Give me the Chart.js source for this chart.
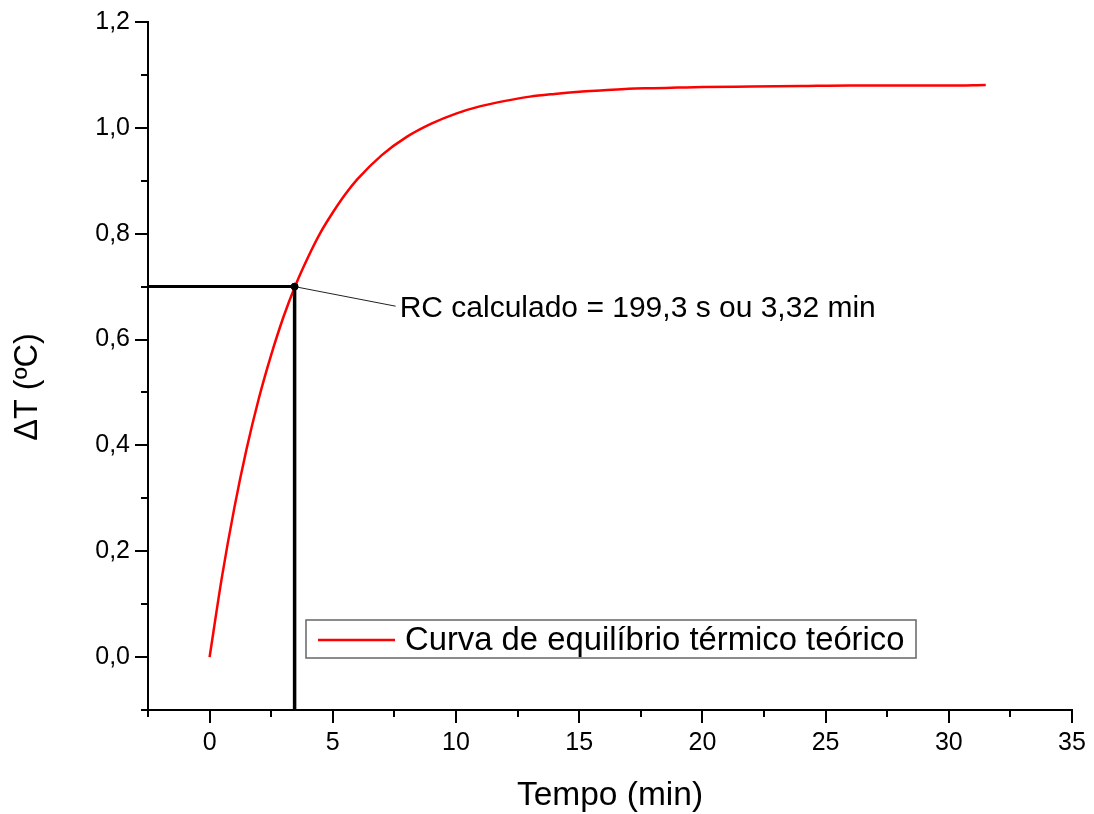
<!DOCTYPE html>
<html>
<head>
<meta charset="utf-8">
<script src="https://cdn.jsdelivr.net/npm/chart.js@4.4.1/dist/chart.umd.min.js"></script>
<style>
  html, body { margin: 0; padding: 0; background: #fff; }
  #wrap { width: 1094px; height: 814px; position: relative; }
</style>
</head>
<body>
<div id="wrap"><canvas id="c" width="1094" height="814"></canvas></div>
<script>
// ---- data ----
const timeMin = [0, 0.5, 1, 1.5, 2, 2.5, 3, 3.5, 4, 4.5, 5, 5.5, 6, 7, 8, 9, 10, 11, 12, 13, 14, 15, 16, 17, 18, 19, 20, 22, 24, 26, 28, 30, 31.5];
const deltaT  = [0, 0.151, 0.281, 0.393, 0.489, 0.571, 0.643, 0.704, 0.756, 0.802, 0.840, 0.874, 0.903, 0.949, 0.983, 1.008, 1.027, 1.041, 1.051, 1.059, 1.064, 1.068, 1.071, 1.074, 1.075, 1.076, 1.077, 1.078, 1.079, 1.080, 1.080, 1.080, 1.081];
const seriesLabel = 'Curva de equilíbrio térmico teórico';
const rcPoint = [3.45, 0.70];            // marked point (min, °C)
const rcLabelAnchor = [7.55, 0.663];     // where the leader line ends / text starts
const rcText = 'RC calculado = 199,3 s ou 3,32 min';
const xTickValues = [0, 5, 10, 15, 20, 25, 30, 35];
const xMinorValues = [-2.5, 2.5, 7.5, 12.5, 17.5, 22.5, 27.5, 32.5];
const yTickValues = [0, 0.2, 0.4, 0.6, 0.8, 1.0, 1.2];
const yMinorValues = [-0.1, 0.1, 0.3, 0.5, 0.7, 0.9, 1.1];
const xTitle = 'Tempo (min)';
const yTitle = 'ΔT (ºC)';
const xRange = [-2.5, 35];
const yRange = [-0.1, 1.2];

const FONT = '"Liberation Sans", Arial, sans-serif';

const curve = timeMin.map((t, i) => ({ x: t, y: deltaT[i] }));

const extras = {
  id: 'extras',
  afterDatasetsDraw(chart) {
    const { ctx, chartArea, scales } = chart;
    const xs = scales.x, ys = scales.y;
    ctx.save();
    // minor ticks
    ctx.strokeStyle = '#000';
    ctx.lineWidth = 2;
    ctx.beginPath();
    xMinorValues.forEach(v => {
      const px = Math.round(xs.getPixelForValue(v));
      ctx.moveTo(px, chartArea.bottom);
      ctx.lineTo(px, chartArea.bottom + 7);
    });
    yMinorValues.forEach(v => {
      const py = Math.round(ys.getPixelForValue(v));
      ctx.moveTo(chartArea.left, py);
      ctx.lineTo(chartArea.left - 7, py);
    });
    ctx.stroke();

    // annotation text
    ctx.fillStyle = '#000';
    ctx.font = '30px ' + FONT;
    ctx.textAlign = 'left';
    ctx.textBaseline = 'middle';
    ctx.fillText(rcText, xs.getPixelForValue(rcLabelAnchor[0]) + 4, ys.getPixelForValue(rcLabelAnchor[1]) + 3);

    // legend box
    const lx = chartArea.left + 158, ly = chartArea.top + 598, lw = 610, lh = 38;
    ctx.fillStyle = '#fff';
    ctx.fillRect(lx, ly, lw, lh);
    ctx.strokeStyle = '#666';
    ctx.lineWidth = 1.5;
    ctx.strokeRect(lx, ly, lw, lh);
    ctx.strokeStyle = '#ff0000';
    ctx.lineWidth = 2.5;
    ctx.beginPath();
    ctx.moveTo(lx + 12, ly + 20);
    ctx.lineTo(lx + 89, ly + 20);
    ctx.stroke();
    ctx.fillStyle = '#000';
    ctx.font = '32.8px ' + FONT;
    ctx.textBaseline = 'middle';
    ctx.fillText(seriesLabel, lx + 99, ly + 21);

    // y axis title
    ctx.save();
    ctx.translate(28, 387);
    ctx.rotate(-Math.PI / 2);
    ctx.textAlign = 'center';
    ctx.textBaseline = 'middle';
    ctx.font = '32.5px ' + FONT;
    ctx.fillText(yTitle, 0, 0);
    ctx.restore();
    ctx.restore();
  }
};

new Chart(document.getElementById('c'), {
  type: 'scatter',
  data: {
    datasets: [
      {
        label: seriesLabel,
        data: curve,
        showLine: true,
        borderColor: '#ff0000',
        borderWidth: 2.5,
        pointRadius: 0,
        cubicInterpolationMode: 'monotone',
        order: 2
      },
      {
        label: 'h',
        data: [{ x: xRange[0], y: rcPoint[1] }, { x: rcPoint[0], y: rcPoint[1] }],
        showLine: true, borderColor: '#000', borderWidth: 3, pointRadius: 0, order: 1
      },
      {
        label: 'v',
        data: [{ x: rcPoint[0], y: rcPoint[1] }, { x: rcPoint[0], y: yRange[0] }],
        showLine: true, borderColor: '#000', borderWidth: 3.5, pointRadius: 0, order: 1
      },
      {
        label: 'leader',
        data: [{ x: rcPoint[0], y: rcPoint[1] }, { x: rcLabelAnchor[0], y: rcLabelAnchor[1] }],
        showLine: true, borderColor: '#222', borderWidth: 1, pointRadius: 0, order: 1
      },
      {
        label: 'pt',
        data: [{ x: rcPoint[0], y: rcPoint[1] }],
        showLine: false, backgroundColor: '#000', borderColor: '#000', pointRadius: 3.5, order: 0
      }
    ]
  },
  options: {
    responsive: false,
    animation: false,
    layout: { padding: { left: 0, right: 22, top: 22, bottom: 0 } },
    plugins: { legend: { display: false }, tooltip: { enabled: false } },
    scales: {
      x: {
        type: 'linear',
        min: xRange[0], max: xRange[1],
        afterBuildTicks(scale) { scale.ticks = xTickValues.map(v => ({ value: v })); },
        afterFit(scale) { scale.height = 104; },
        grid: { drawOnChartArea: false, drawTicks: true, tickLength: 13, color: '#000', lineWidth: 2 },
        border: { color: '#000', width: 2 },
        ticks: {
          color: '#000', padding: 5,
          font: { family: FONT, size: 25 },
          maxRotation: 0,
          callback: v => String(v)
        },
        title: {
          display: true, text: xTitle, color: '#000',
          font: { family: FONT, size: 33.5, lineHeight: 1 },
          padding: { top: 0, bottom: 1 }
        }
      },
      y: {
        type: 'linear',
        min: yRange[0], max: yRange[1],
        afterBuildTicks(scale) { scale.ticks = yTickValues.map(v => ({ value: v })); },
        afterFit(scale) { scale.width = 148; },
        grid: { drawOnChartArea: false, drawTicks: true, tickLength: 13, color: '#000', lineWidth: 2 },
        border: { color: '#000', width: 2 },
        ticks: {
          color: '#000', padding: 5,
          font: { family: FONT, size: 25 },
          callback: v => v.toFixed(1).replace('.', ',')
        }
      }
    }
  },
  plugins: [extras]
});
</script>
</body>
</html>
